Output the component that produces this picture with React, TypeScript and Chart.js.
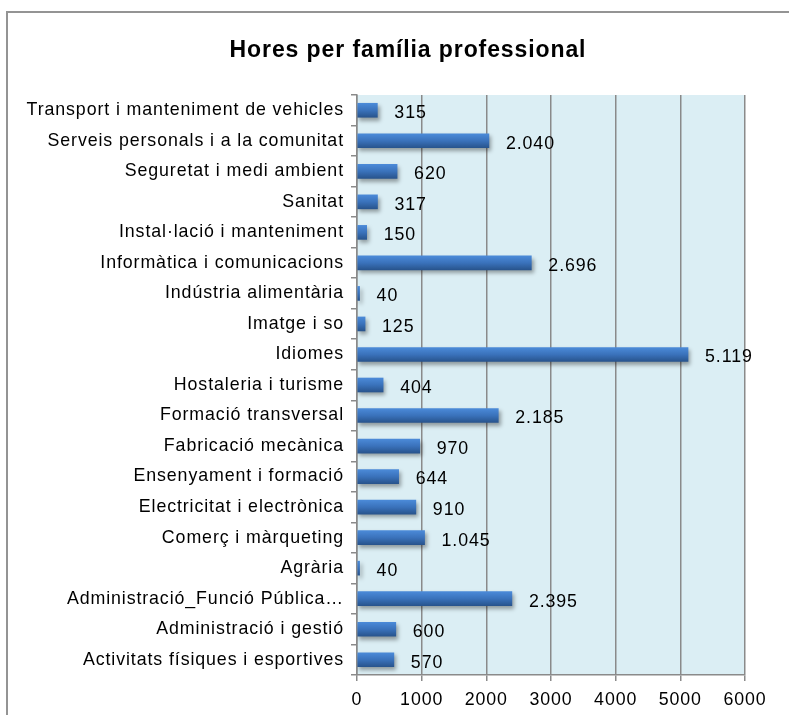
import React, { useEffect, useRef } from "react";
import { Chart, registerables } from "chart.js";

Chart.register(...registerables);

const title = "Hores per família professional";

const categories = [
  "Transport i manteniment de vehicles",
  "Serveis personals i a la comunitat",
  "Seguretat i medi ambient",
  "Sanitat",
  "Instal·lació i manteniment",
  "Informàtica i comunicacions",
  "Indústria alimentària",
  "Imatge i so",
  "Idiomes",
  "Hostaleria i turisme",
  "Formació transversal",
  "Fabricació mecànica",
  "Ensenyament i formació",
  "Electricitat i electrònica",
  "Comerç i màrqueting",
  "Agrària",
  "Administració_Funció Pública…",
  "Administració i gestió",
  "Activitats físiques i esportives",
];

const hours = [315, 2040, 620, 317, 150, 2696, 40, 125, 5119, 404, 2185, 970, 644, 910, 1045, 40, 2395, 600, 570];

const xTicks = [0, 1000, 2000, 3000, 4000, 5000, 6000];

const FONT = "'Liberation Sans', Arial, sans-serif";
const GRID = "#8a8a8a";

function fmt(v: number): string {
  const s = String(Math.round(v));
  return s.replace(/\B(?=(\d{3})+(?!\d))/g, ".");
}

export default function App() {
  const ref = useRef<HTMLCanvasElement | null>(null);

  useEffect(() => {
    const canvas = ref.current;
    if (!canvas) return;

    const spacing = {
      id: "spacing",
      beforeUpdate(chart: any) {
        (chart.ctx as any).letterSpacing = "0.9px";
      },
      beforeDraw(chart: any) {
        (chart.ctx as any).letterSpacing = "0.9px";
        const a = chart.chartArea;
        const ctx = chart.ctx;
        ctx.save();
        ctx.fillStyle = "#dbeef4";
        ctx.fillRect(a.left, a.top, a.right - a.left, a.bottom - a.top);
        ctx.restore();
      },
    };

    const barDeco = {
      id: "barDeco",
      beforeDatasetsDraw(chart: any) {
        const ctx = chart.ctx;
        ctx.save();
        ctx.shadowColor = "rgba(0,0,0,0.35)";
        ctx.shadowBlur = 4;
        ctx.shadowOffsetX = 2;
        ctx.shadowOffsetY = 3;
      },
      afterDatasetsDraw(chart: any) {
        const ctx = chart.ctx;
        ctx.restore();
        const meta = chart.getDatasetMeta(0);
        const data = chart.data.datasets[0].data as number[];
        ctx.save();
        ctx.font = `17.8px ${FONT}`;
        ctx.fillStyle = "#000";
        ctx.textAlign = "left";
        ctx.textBaseline = "middle";
        meta.data.forEach((bar: any, i: number) => {
          ctx.fillText(fmt(data[i]), bar.x + 17, bar.y + 3);
        });
        ctx.restore();
      },
    };

    const chart = new Chart(canvas, {
      type: "bar",
      data: {
        labels: categories,
        datasets: [
          {
            data: hours,
            barThickness: 14,
            borderWidth: 0,
            backgroundColor: (c: any) => {
              const ch = c.chart;
              const y = ch.scales && ch.scales.y;
              if (!y || c.type !== "data") return "#3a70b5";
              const py = y.getPixelForValue(c.dataIndex);
              if (!Number.isFinite(py)) return "#3a70b5";
              const g = ch.ctx.createLinearGradient(0, py - 7, 0, py + 7);
              g.addColorStop(0, "#4b8ad8");
              g.addColorStop(0.5, "#3a72bb");
              g.addColorStop(1, "#28548d");
              return g;
            },
          },
        ],
      },
      options: {
        indexAxis: "y",
        responsive: false,
        animation: false,
        devicePixelRatio: 1,
        layout: { padding: 0 },
        plugins: {
          legend: { display: false },
          tooltip: { enabled: false },
          title: {
            display: true,
            text: title,
            color: "#000",
            font: { family: FONT, size: 23, weight: "bold" },
            padding: { top: 24, bottom: 30.4 },
          },
        },
        scales: {
          x: {
            type: "linear",
            min: 0,
            max: 6000,
            afterBuildTicks: (s: any) => {
              s.ticks = xTicks.map((v) => ({ value: v }));
            },
            afterFit: (s: any) => {
              s.height = 48;
            },
            ticks: {
              color: "#000",
              font: { family: FONT, size: 17.8 },
              padding: 8,
              maxRotation: 0,
              autoSkip: false,
              callback: (v: any) => String(v),
            },
            grid: { color: GRID, lineWidth: 1.5, tickLength: 6 },
            border: { color: GRID, width: 1.5 },
          },
          y: {
            type: "category",
            afterFit: (s: any) => {
              s.width = 349;
            },
            ticks: {
              color: "#000",
              font: { family: FONT, size: 17.8 },
              padding: 7,
              autoSkip: false,
            },
            grid: { color: GRID, lineWidth: 1.5, tickLength: 6, drawOnChartArea: false, offset: true },
            border: { color: GRID, width: 1.5 },
          },
          spacer: {
            type: "category",
            position: "right",
            labels: [""],
            afterFit: (s: any) => {
              s.width = 63;
            },
            ticks: { display: false },
            grid: { display: false, drawTicks: false },
            border: { display: false },
          },
        },
      },
      plugins: [spacing, barDeco],
    } as any);

    return () => chart.destroy();
  }, []);

  return (
    <div
      style={{
        position: "fixed",
        left: 0,
        top: 0,
        width: 789,
        height: 715,
        overflow: "hidden",
        background: "#fff",
      }}
    >
      <div
        style={{
          position: "absolute",
          left: 6,
          top: 11,
          width: 820,
          height: 740,
          borderLeft: "2px solid #949494",
          borderTop: "2px solid #949494",
          boxSizing: "border-box",
        }}
      />
      <canvas
        ref={ref}
        width={800}
        height={710}
        style={{ position: "absolute", left: 8, top: 13, width: 800, height: 710 }}
      />
    </div>
  );
}
